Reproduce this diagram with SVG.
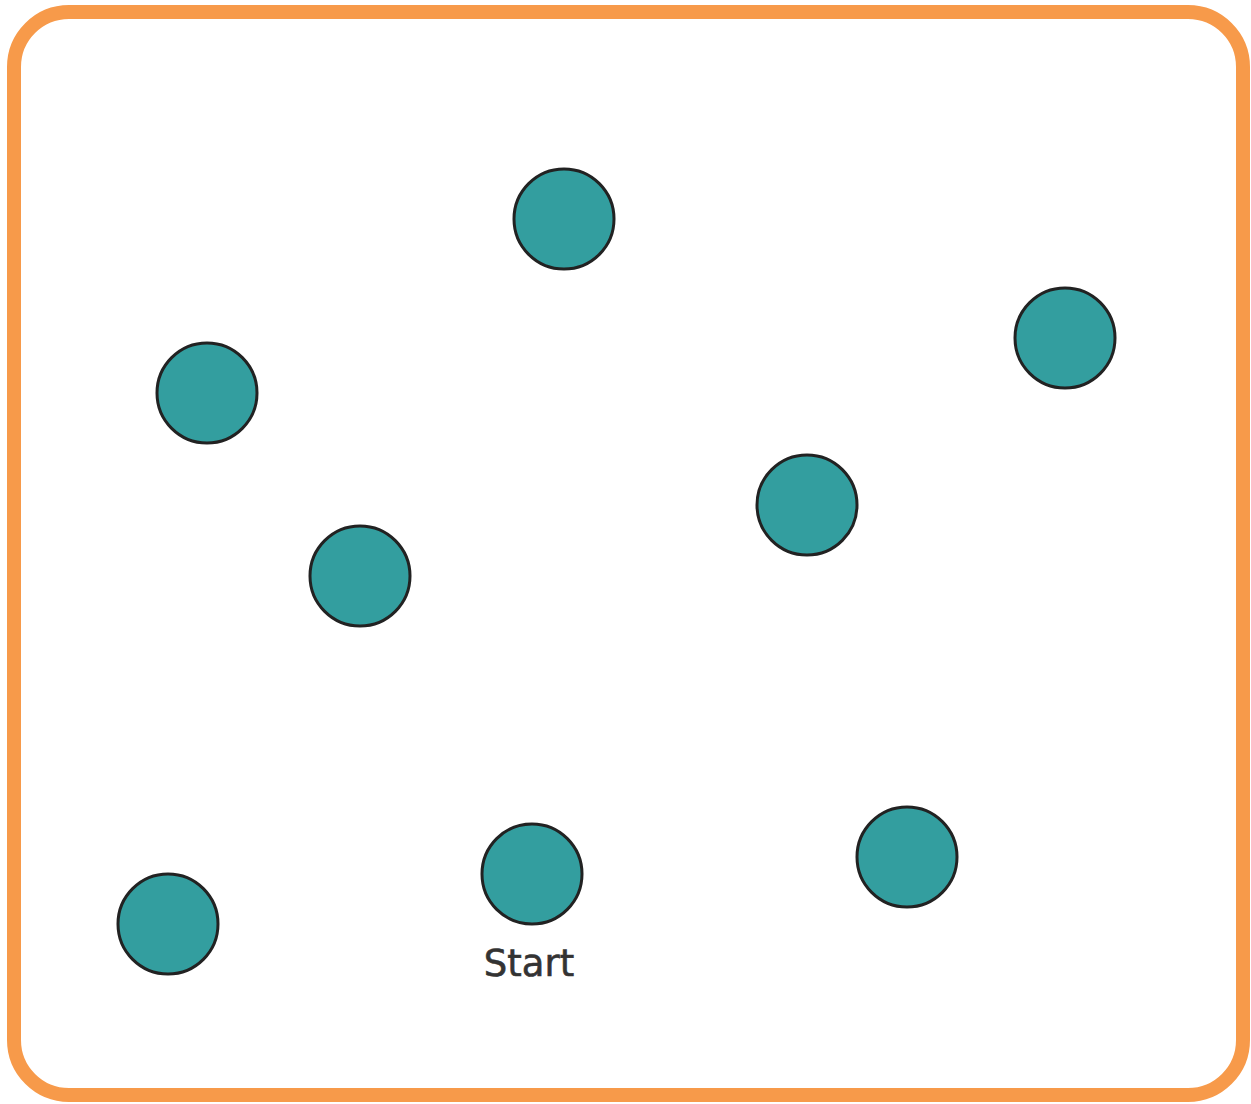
<svg xmlns="http://www.w3.org/2000/svg" width="1251" height="1104" viewBox="0 0 1251 1104">
<style>
.node{fill:#339e9f;stroke:#222;stroke-width:3}
.lbl{font-family:"DejaVu Sans",Verdana,sans-serif;font-size:37px;fill:#333;stroke:#333;stroke-width:0.6;text-anchor:middle}
</style>
<rect x="0" y="0" width="1251" height="1104" fill="#fff"/>
<rect id="frame" x="14" y="12" width="1229" height="1083" rx="55" ry="55" fill="none" stroke="#f79a4a" stroke-width="14"/>
<g id="connectors"></g>
<g id="n1"><circle class="node" cx="564" cy="219" r="50"/></g>
<g id="n2"><circle class="node" cx="1065" cy="338" r="50"/></g>
<g id="n3"><circle class="node" cx="207" cy="393" r="50"/></g>
<g id="n4"><circle class="node" cx="807" cy="505" r="50"/></g>
<g id="n5"><circle class="node" cx="360" cy="576" r="50"/></g>
<g id="n6"><circle class="node" cx="168" cy="924" r="50"/></g>
<g id="n7"><circle class="node" cx="532" cy="874" r="50"/><text class="lbl" x="529" y="976">Start</text></g>
<g id="n8"><circle class="node" cx="907" cy="857" r="50"/></g>
</svg>
